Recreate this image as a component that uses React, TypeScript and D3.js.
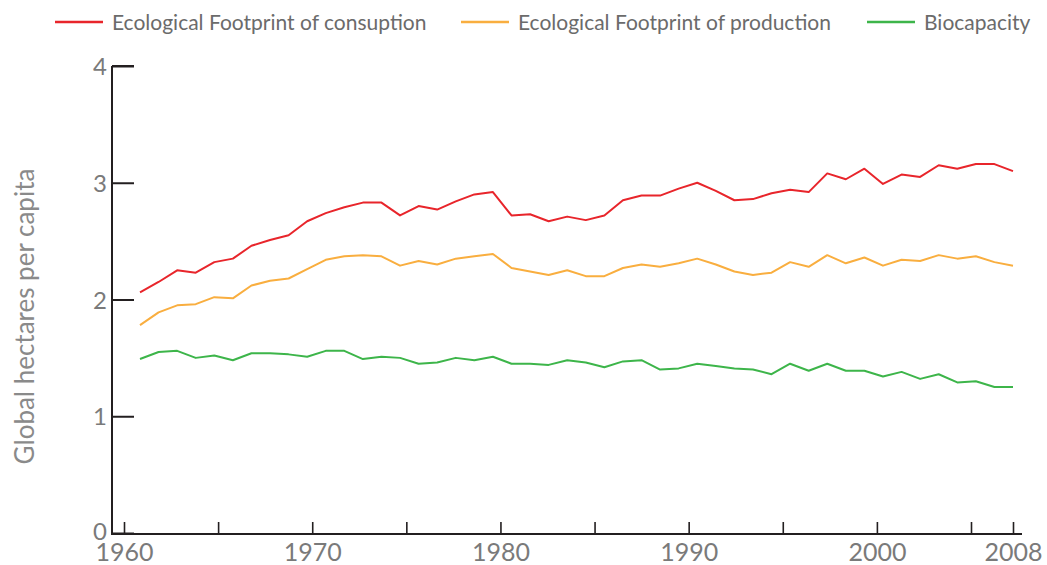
import React, { useRef, useEffect } from 'react';
import * as d3 from 'd3';

const years = [
  1961, 1962, 1963, 1964, 1965, 1966, 1967, 1968, 1969, 1970,
  1971, 1972, 1973, 1974, 1975, 1976, 1977, 1978, 1979, 1980,
  1981, 1982, 1983, 1984, 1985, 1986, 1987, 1988, 1989, 1990,
  1991, 1992, 1993, 1994, 1995, 1996, 1997, 1998, 1999, 2000,
  2001, 2002, 2003, 2004, 2005, 2006, 2007, 2008,
];

const consumption = [
  2.06, 2.15, 2.25, 2.23, 2.32, 2.35, 2.46, 2.51, 2.55, 2.67,
  2.74, 2.79, 2.83, 2.83, 2.72, 2.80, 2.77, 2.84, 2.90, 2.92,
  2.72, 2.73, 2.67, 2.71, 2.68, 2.72, 2.85, 2.89, 2.89, 2.95,
  3.00, 2.93, 2.85, 2.86, 2.91, 2.94, 2.92, 3.08, 3.03, 3.12,
  2.99, 3.07, 3.05, 3.15, 3.12, 3.16, 3.16, 3.10,
];

const production = [
  1.78, 1.89, 1.95, 1.96, 2.02, 2.01, 2.12, 2.16, 2.18, 2.26,
  2.34, 2.37, 2.38, 2.37, 2.29, 2.33, 2.30, 2.35, 2.37, 2.39,
  2.27, 2.24, 2.21, 2.25, 2.20, 2.20, 2.27, 2.30, 2.28, 2.31,
  2.35, 2.30, 2.24, 2.21, 2.23, 2.32, 2.28, 2.38, 2.31, 2.36,
  2.29, 2.34, 2.33, 2.38, 2.35, 2.37, 2.32, 2.29,
];

const biocapacity = [
  1.49, 1.55, 1.56, 1.50, 1.52, 1.48, 1.54, 1.54, 1.53, 1.51,
  1.56, 1.56, 1.49, 1.51, 1.50, 1.45, 1.46, 1.50, 1.48, 1.51,
  1.45, 1.45, 1.44, 1.48, 1.46, 1.42, 1.47, 1.48, 1.40, 1.41,
  1.45, 1.43, 1.41, 1.40, 1.36, 1.45, 1.39, 1.45, 1.39, 1.39,
  1.34, 1.38, 1.32, 1.36, 1.29, 1.30, 1.25, 1.25,
];

const xTickValues = [1960, 1965, 1970, 1975, 1980, 1985, 1990, 1995, 2000, 2005, 2008];
const xTickLabels = ['1960', '', '1970', '', '1980', '', '1990', '', '2000', '', '2008'];
const yTickValues = [0, 1, 2, 3, 4];

const seriesNames = [
  'Ecological Footprint of consuption',
  'Ecological Footprint of production',
  'Biocapacity',
];
const seriesColors = ['#e8252b', '#f9ae3f', '#3db54a'];
const seriesData = [consumption, production, biocapacity];

const FONT = 'Lato, "Open Sans", sans-serif';

const App = () => {
  const svgRef = useRef<SVGSVGElement>(null);
  const width = 1047;
  const height = 565;

  useEffect(() => {
    const svg = d3.select(svgRef.current);
    svg.selectAll('*').remove();

    const axisX = 112;
    const axisY = 534;
    const axisRight = 1022;

    const x = d3.scaleLinear().domain([1961, 2008]).range([140, 1013]);
    // tick positions of the printed axis don't sit exactly on the data grid
    const xTick = d3.scaleLinear().domain([1960, 2005, 2008]).range([124, 971, 1013]);
    const y = d3.scaleLinear().domain([0, 4]).range([533, 66]);

    // y axis
    const yAxis = svg
      .append('g')
      .attr('transform', `translate(${axisX},0)`)
      .call(d3.axisLeft(y).tickValues(yTickValues).tickSize(-22).tickSizeOuter(0).tickPadding(5).tickFormat(d3.format('d')));
    yAxis.select('.domain').remove();
    yAxis.selectAll('.tick line').attr('stroke', '#231f20').attr('stroke-width', 2);
    yAxis
      .selectAll('.tick text')
      .attr('fill', '#7a7a7a')
      .attr('font-family', FONT)
      .attr('font-size', 24)
      .attr('dy', (d) => (d === 0 ? '0.28em' : '0.36em'));

    // x axis
    const xAxis = svg
      .append('g')
      .attr('transform', `translate(0,${axisY})`)
      .call(
        d3
          .axisBottom(xTick)
          .tickValues(xTickValues)
          .tickSize(-12)
          .tickSizeOuter(0)
          .tickPadding(9)
          .tickFormat((d, i) => xTickLabels[i])
      );
    xAxis.select('.domain').remove();
    xAxis.selectAll('.tick line').attr('stroke', '#231f20').attr('stroke-width', 1.6);
    xAxis
      .selectAll('.tick text')
      .attr('fill', '#7a7a7a')
      .attr('font-family', FONT)
      .attr('font-size', 25);

    svg
      .append('path')
      .attr('d', `M${axisX},${y(4)}H${axisX + 22}M${axisX},${y(4)}V${axisY}H${axisRight}`)
      .attr('fill', 'none')
      .attr('stroke', '#231f20')
      .attr('stroke-width', 2);

    // y title
    svg
      .append('text')
      .attr('transform', `translate(34,${(y(0) + y(4)) / 2 + 17}) rotate(-90)`)
      .attr('text-anchor', 'middle')
      .attr('fill', '#8a8a8a')
      .attr('font-family', FONT)
      .attr('font-size', 26)
      .text('Global hectares per capita');

    // lines
    const line = d3
      .line<number>()
      .x((d, i) => x(years[i]))
      .y((d) => y(d));

    seriesData.forEach((s, k) => {
      svg
        .append('path')
        .datum(s)
        .attr('fill', 'none')
        .attr('stroke', seriesColors[k])
        .attr('stroke-width', 2)
        .attr('stroke-linejoin', 'round')
        .attr('d', line);
    });

    // legend
    const legendX = [55, 461, 867];
    const legend = svg
      .selectAll('.legend')
      .data(seriesNames)
      .enter()
      .append('g')
      .attr('class', 'legend')
      .attr('transform', (d, i) => `translate(${legendX[i]},22)`);
    legend
      .append('line')
      .attr('x1', 0)
      .attr('x2', 48)
      .attr('stroke', (d, i) => seriesColors[i])
      .attr('stroke-width', 2.5);
    legend
      .append('text')
      .attr('x', 57)
      .attr('y', 8)
      .attr('fill', '#6b6b6b')
      .attr('font-family', FONT)
      .attr('font-size', 21)
      .text((d) => d);
  }, []);

  return (
    <svg
      ref={svgRef}
      width={width}
      height={height}
      style={{ position: 'absolute', left: 0, top: 0, background: '#fff' }}
    ></svg>
  );
};

export default App;
